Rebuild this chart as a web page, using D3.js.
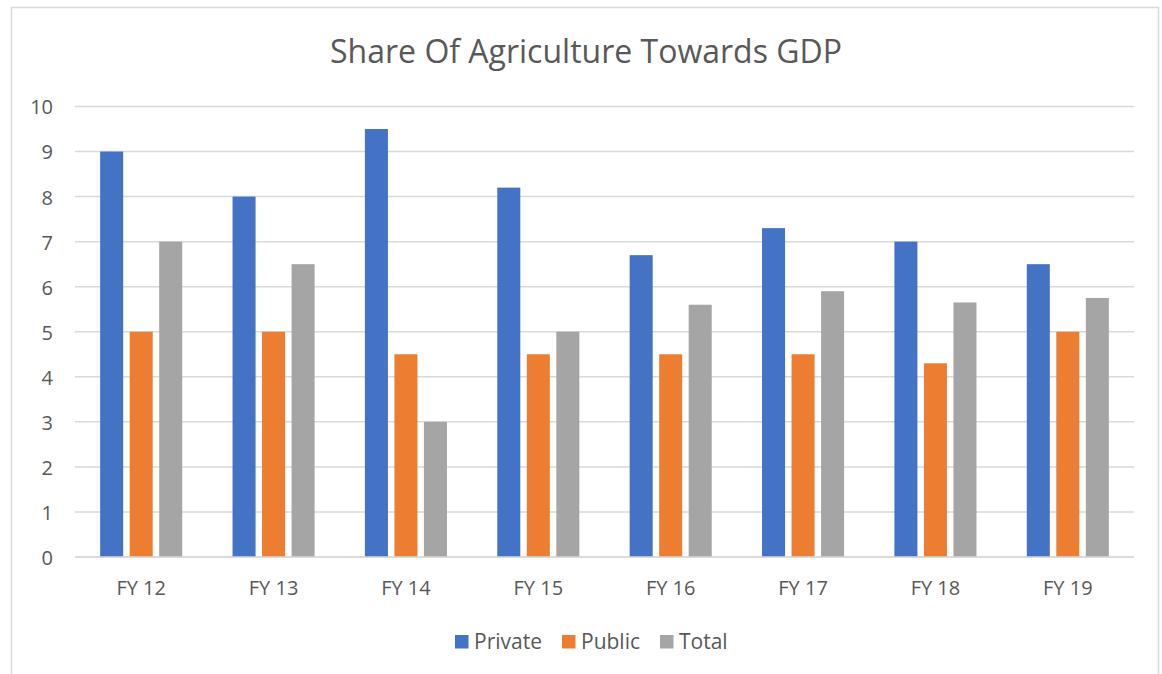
<!DOCTYPE html>
<html>
<head>
<meta charset="utf-8">
<script src="https://cdn.jsdelivr.net/npm/d3@7/dist/d3.min.js"></script>
<style>
  html, body { margin: 0; padding: 0; background: #fff; }
  svg text { font-family: "Open Sans", "Noto Sans", sans-serif; fill: #595959; }
</style>
</head>
<body>
<svg id="chart" width="1162" height="674"></svg>
<script>
const categories = ["FY 12", "FY 13", "FY 14", "FY 15", "FY 16", "FY 17", "FY 18", "FY 19"];
const seriesNames = ["Private", "Public", "Total"];
const privateValues = [9, 8, 9.5, 8.2, 6.7, 7.3, 7.0, 6.5];
const publicValues = [5, 5, 4.5, 4.5, 4.5, 4.5, 4.3, 5.0];
const totalValues = [7, 6.5, 3, 5, 5.6, 5.9, 5.65, 5.75];
const yTicks = [0, 1, 2, 3, 4, 5, 6, 7, 8, 9, 10];
const colors = ["#4472C4", "#ED7D31", "#A5A5A5"];

const seriesValues = [privateValues, publicValues, totalValues];

const svg = d3.select("#chart");
const plot = { left: 75, right: 1134, top: 106.5, bottom: 557 };

// chart frame
svg.append("rect")
  .attr("x", 11.5).attr("y", 7.5)
  .attr("width", 1147).attr("height", 700)
  .attr("fill", "none").attr("stroke", "#D9D9D9").attr("stroke-width", 1.5);

// title
svg.append("text")
  .attr("x", 586).attr("y", 63)
  .attr("text-anchor", "middle")
  .style("font-size", "32px")
  .text("Share Of Agriculture Towards GDP");

const y = d3.scaleLinear().domain([0, 10]).range([plot.bottom, plot.top]);
const x0 = d3.scaleBand().domain(categories).range([plot.left, plot.right]).paddingInner(0.38).paddingOuter(0.19);
const x1 = d3.scaleBand().domain(seriesNames).range([0, x0.bandwidth()]).paddingInner(0.22);

// gridlines
svg.append("g")
  .selectAll("line")
  .data(yTicks)
  .join("line")
  .attr("x1", plot.left).attr("x2", plot.right)
  .attr("y1", d => y(d)).attr("y2", d => y(d))
  .attr("stroke", "#D9D9D9").attr("stroke-width", 1.5);

// y axis labels
const yAxis = d3.axisLeft(y).tickValues(yTicks).tickSize(0).tickPadding(0);
const ya = svg.append("g").attr("transform", `translate(53,1)`).call(yAxis);
ya.select(".domain").remove();
ya.selectAll("text").style("font-size", "20px").attr("fill", "#595959").style("font-family", '"Open Sans", sans-serif');

// bars
const groups = svg.append("g")
  .selectAll("g")
  .data(categories)
  .join("g")
  .attr("transform", d => `translate(${x0(d)},0)`);

groups.selectAll("rect")
  .data((c, i) => seriesNames.map((s, k) => ({ s, v: seriesValues[k][i], k })))
  .join("rect")
  .attr("x", d => x1(d.s))
  .attr("width", x1.bandwidth())
  .attr("y", d => y(d.v))
  .attr("height", d => y(0) - y(d.v))
  .attr("fill", d => colors[d.k]);

// x axis labels
const xAxis = d3.axisBottom(x0).tickSize(0).tickPadding(0);
const xa = svg.append("g").attr("transform", `translate(0,595)`).call(xAxis);
xa.select(".domain").remove();
xa.selectAll("text").style("font-size", "20px").attr("fill", "#595959").style("font-family", '"Open Sans", sans-serif').attr("dy", "0").attr("y", 0);

// zero baseline on top of bars
svg.append("line")
  .attr("x1", plot.left).attr("x2", plot.right)
  .attr("y1", y(0)).attr("y2", y(0))
  .attr("stroke", "#D9D9D9").attr("stroke-width", 1.5);

// legend
const legendX = [455, 562, 660];
const legend = svg.append("g")
  .selectAll("g")
  .data(seriesNames)
  .join("g")
  .attr("transform", (d, i) => `translate(${legendX[i]},635)`);
legend.append("rect").attr("width", 13.5).attr("height", 13.5).attr("fill", (d, i) => colors[i]);
legend.append("text").attr("x", 19).attr("y", 13.5).style("font-size", "21px").text(d => d);
</script>
</body>
</html>
